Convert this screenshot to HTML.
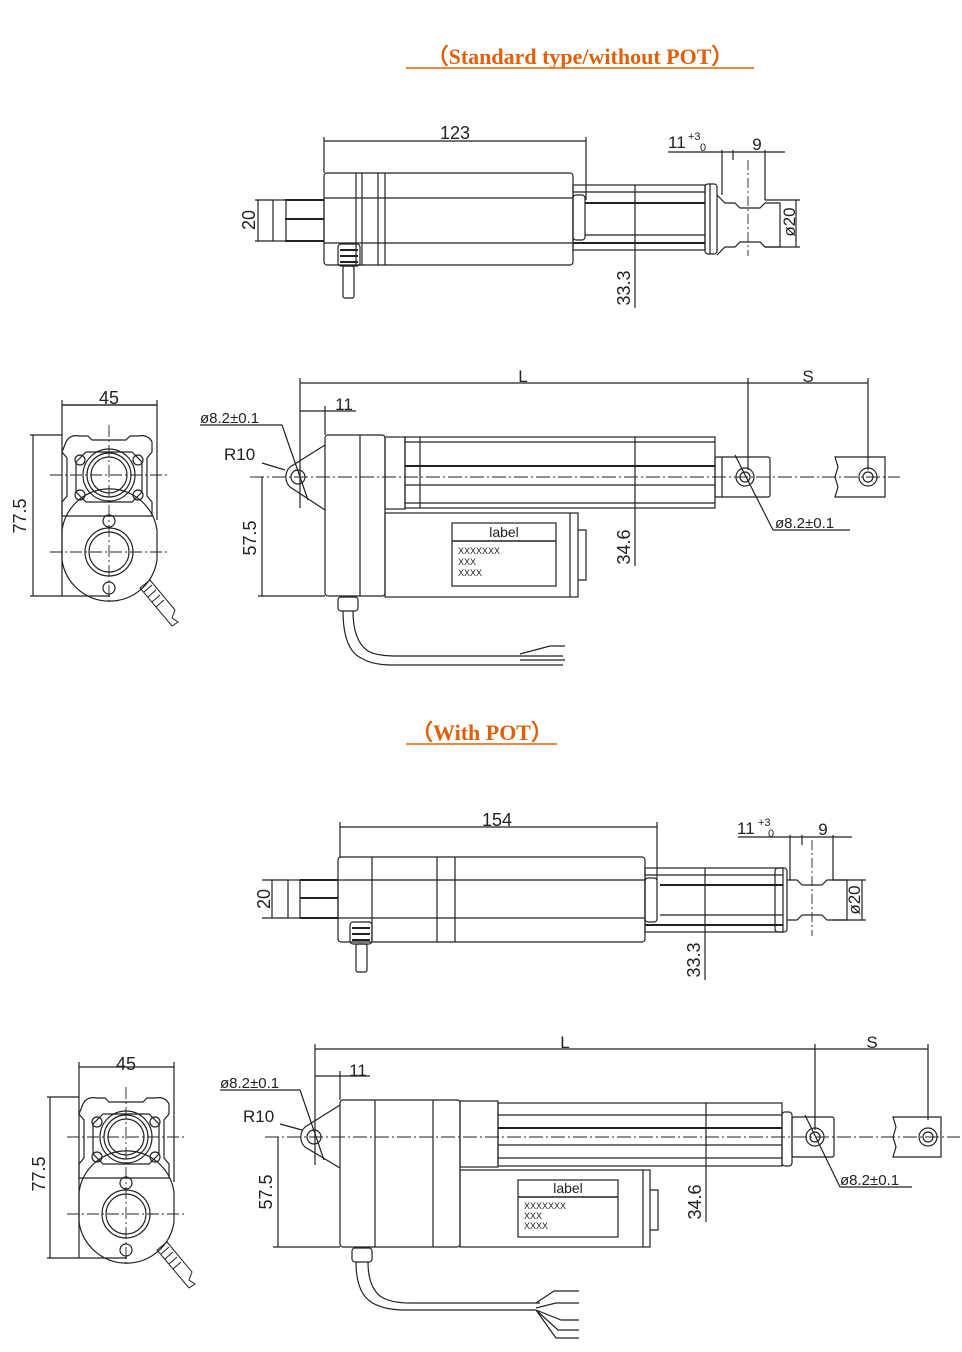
<!DOCTYPE html>
<html><head><meta charset="utf-8"><style>
html,body{margin:0;padding:0;background:#fff}
svg{display:block}
.t{font-family:"Liberation Sans",sans-serif;fill:#222}
.h{font-family:"Liberation Serif",serif;font-weight:bold;fill:#e0600a;font-size:22px}
</style></head><body>
<svg width="962" height="1352" viewBox="0 0 962 1352" xmlns="http://www.w3.org/2000/svg" fill="none" stroke="#222" stroke-width="1.2">
<defs>
<g id="endv">
 <line x1="30" y1="435" x2="62" y2="435"/><line x1="30" y1="596" x2="110" y2="596"/>
 <line x1="33" y1="435" x2="33" y2="596"/>
 <line x1="62" y1="400" x2="62" y2="596"/><line x1="157" y1="400" x2="157" y2="520"/>
 <line x1="62" y1="405" x2="157" y2="405"/>
 <path d="M66 442 q4-8 14-6 l8 0 l4 4 l34 0 l4-4 l8 0 q10-2 14 6 l0 10 l-5 6 l0 38 l5 6 l0 14 l-90 0 l0-14 l5-6 l0-38 l-5-6z"/>
 <path d="M76 462 l10-10 l46 0 l10 10 l0 30 l-10 10 l-46 0 l-10-10z"/>
 <circle cx="109" cy="475" r="22"/><circle cx="109" cy="475" r="18"/><circle cx="109" cy="475" r="26"/>
 <circle cx="80" cy="460" r="5"/><circle cx="138" cy="460" r="5"/><circle cx="80" cy="495" r="5"/><circle cx="138" cy="495" r="5"/>
 <path d="M62 530 a48 48 0 0 1 95 0 L157 560 A48 48 0 0 1 62 560 Z"/>
 <circle cx="109" cy="552" r="24"/><circle cx="109" cy="552" r="20"/>
 <circle cx="109" cy="521" r="6"/><circle cx="109" cy="588" r="6"/>
 <path d="M140 588 l10-8 l25 30 l-3 8 l6 4 l-6 4 z" stroke-width="1"/>
 <path d="M144 592 l8-7 M148 597 l8-7 M152 602 l8-7 M156 607 l8-7" stroke-width="1"/>
 <g stroke-dasharray="12,3,2,3" stroke-width="0.9">
 <line x1="109" y1="425" x2="109" y2="605"/><line x1="50" y1="475" x2="168" y2="475"/><line x1="50" y1="552" x2="168" y2="552"/>
 </g>
</g>
</defs>

<!-- Titles -->
<text x="580" y="64" text-anchor="middle" class="h" stroke="none">（Standard type/without POT）</text>
<line x1="406" y1="68" x2="754" y2="68" stroke="#e0600a" stroke-width="1.5"/>
<text x="482" y="740" text-anchor="middle" class="h" stroke="none">（With POT）</text>
<line x1="406" y1="744" x2="557" y2="744" stroke="#e0600a" stroke-width="1.5"/>

<!-- ===== TOP VIEW 1 ===== -->
<line x1="324" y1="141" x2="586" y2="141"/><line x1="324" y1="137" x2="324" y2="173"/><line x1="586" y1="137" x2="586" y2="200"/>
<text x="455" y="139" class="t" font-size="18" text-anchor="middle" stroke="none">123</text>
<rect x="324" y="173" width="249" height="92" rx="3"/>
<line x1="356" y1="173" x2="356" y2="265"/><line x1="362" y1="173" x2="362" y2="265"/><line x1="378" y1="173" x2="378" y2="265"/><line x1="385" y1="173" x2="385" y2="265"/>
<line x1="324" y1="198" x2="573" y2="198"/><line x1="324" y1="243" x2="573" y2="243"/>
<rect x="273" y="200" width="51" height="41"/>
<line x1="286" y1="200" x2="286" y2="241"/>
<line x1="285" y1="219" x2="324" y2="219" stroke-width="2"/><line x1="285" y1="200" x2="324" y2="200" stroke-width="2"/><line x1="285" y1="241" x2="324" y2="241" stroke-width="2"/>
<line x1="255" y1="200" x2="273" y2="200"/><line x1="255" y1="241" x2="273" y2="241"/><line x1="258" y1="200" x2="258" y2="241"/>
<text x="255" y="220" class="t" font-size="18" text-anchor="middle" stroke="none" transform="rotate(-90 255 220)">20</text>
<rect x="338" y="244" width="22" height="22" rx="3"/><path d="M340 250 h18 M340 256 h18 M340 262 h18" stroke-width="2"/>
<rect x="343" y="266" width="11" height="32" rx="2"/>
<rect x="573" y="185" width="132" height="65"/>
<line x1="573" y1="192" x2="705" y2="192"/><line x1="585" y1="203" x2="705" y2="203" stroke-width="2"/><line x1="585" y1="235" x2="705" y2="235"/><line x1="573" y1="243" x2="705" y2="243" stroke-width="2"/>
<rect x="573" y="195" width="12" height="45" rx="3"/>
<rect x="705" y="184" width="12" height="70" rx="3"/><line x1="710" y1="184" x2="710" y2="254"/>
<path d="M717 195 l8 8 l0 0 h10 l5 5 h20 l5-5 h15 v44 h-15 l-5-5 h-20 l-5 5 h-10 l-8 8"/>
<line x1="748" y1="160" x2="748" y2="256" stroke-dasharray="10,3,2,3" stroke-width="0.9"/>
<line x1="722" y1="150" x2="722" y2="195"/><line x1="733" y1="150" x2="733" y2="160"/><line x1="765" y1="150" x2="765" y2="200"/>
<line x1="668" y1="152" x2="785" y2="152"/>
<text x="668" y="148" class="t" font-size="17" stroke="none">11</text><text x="688" y="140" class="t" font-size="11" stroke="none">+3</text><text x="700" y="151" class="t" font-size="11" stroke="none">0</text>
<text x="757" y="150" class="t" font-size="17" text-anchor="middle" stroke="none">9</text>
<line x1="765" y1="200" x2="800" y2="200"/><line x1="765" y1="247" x2="800" y2="247"/><line x1="796" y1="200" x2="796" y2="247"/>
<text x="795" y="222" class="t" font-size="17" text-anchor="middle" stroke="none" transform="rotate(-90 795 222)">ø20</text>
<line x1="635" y1="185" x2="635" y2="308"/>
<text x="630" y="288" class="t" font-size="18" text-anchor="middle" stroke="none" transform="rotate(-90 630 288)">33.3</text>

<!-- ===== SIDE VIEW 1 ===== -->
<use href="#endv"/>
<line x1="62" y1="405" x2="157" y2="405"/>
<text x="109" y="404" class="t" font-size="18" text-anchor="middle" stroke="none">45</text>
<text x="26" y="516" class="t" font-size="18" text-anchor="middle" stroke="none" transform="rotate(-90 26 516)">77.5</text>

<line x1="300" y1="383" x2="868" y2="383"/>
<line x1="300" y1="378" x2="300" y2="508"/><line x1="748" y1="378" x2="748" y2="470"/><line x1="868" y1="378" x2="868" y2="470"/>
<text x="523" y="382" class="t" font-size="17" text-anchor="middle" stroke="none">L</text>
<text x="808" y="382" class="t" font-size="17" text-anchor="middle" stroke="none">S</text>
<line x1="300" y1="411" x2="356" y2="411"/><line x1="325" y1="406" x2="325" y2="435"/>
<text x="344" y="410" class="t" font-size="17" text-anchor="middle" stroke="none">11</text>
<text x="200" y="423" class="t" font-size="15" stroke="none">ø8.2±0.1</text>
<line x1="200" y1="425" x2="282" y2="425"/><line x1="282" y1="425" x2="308" y2="500"/>
<text x="224" y="460" class="t" font-size="17" stroke="none">R10</text><line x1="262" y1="463" x2="285" y2="470"/>
<path d="M325 445 L290 467 a14 14 0 0 0 0 20 L325 510"/>
<circle cx="298" cy="477" r="7"/>
<line x1="250" y1="477" x2="900" y2="477" stroke-dasharray="14,3,2,3" stroke-width="0.9"/>
<rect x="325" y="435" width="60" height="161" rx="3"/><line x1="360" y1="435" x2="360" y2="596"/>
<rect x="385" y="437" width="20" height="72"/>
<rect x="405" y="437" width="310" height="71"/>
<line x1="405" y1="442" x2="715" y2="442"/><line x1="405" y1="466" x2="715" y2="466" stroke-width="2"/><line x1="405" y1="485" x2="715" y2="485"/><line x1="405" y1="503" x2="715" y2="503"/>
<line x1="420" y1="437" x2="420" y2="508"/>
<rect x="385" y="513" width="193" height="84"/><line x1="570" y1="513" x2="570" y2="597"/>
<path d="M578 530 h8 v50 h-8"/>
<rect x="452" y="523" width="104" height="63"/><line x1="452" y1="541" x2="556" y2="541" stroke-width="1.6"/>
<text x="504" y="537" class="t" font-size="14" text-anchor="middle" stroke="none">label</text>
<text x="458" y="554" class="t" font-size="9" stroke="none">XXXXXXX</text><text x="458" y="565" class="t" font-size="9" stroke="none">XXX</text><text x="458" y="576" class="t" font-size="9" stroke="none">XXXX</text>
<rect x="715" y="457" width="55" height="40" rx="2"/><line x1="722" y1="457" x2="722" y2="497"/>
<circle cx="745" cy="477" r="9"/><circle cx="745" cy="477" r="5"/>
<line x1="735" y1="455" x2="773" y2="530"/><line x1="773" y1="530" x2="850" y2="530"/>
<text x="775" y="528" class="t" font-size="15" stroke="none">ø8.2±0.1</text>
<path d="M835 457 h50 v40 h-50 l3-10 l-3-10 l3-10 z"/><circle cx="868" cy="477" r="9"/><circle cx="868" cy="477" r="5"/>
<line x1="635" y1="437" x2="635" y2="566"/>
<text x="630" y="547" class="t" font-size="18" text-anchor="middle" stroke="none" transform="rotate(-90 630 547)">34.6</text>
<line x1="258" y1="596" x2="325" y2="596"/><line x1="262" y1="477" x2="262" y2="596"/>
<text x="256" y="538" class="t" font-size="18" text-anchor="middle" stroke="none" transform="rotate(-90 256 538)">57.5</text>
<rect x="338" y="597" width="20" height="14" rx="3"/>
<path d="M343 611 q0 40 20 48 q10 6 30 6 h170 M353 611 q0 30 15 40 q8 5 30 5 h165"/>
<path d="M520 654 l30-8 h15 M520 660 l30 0 h15"/>

<!-- ===== TOP VIEW 2 ===== -->
<line x1="340" y1="827" x2="657" y2="827"/><line x1="340" y1="822" x2="340" y2="857"/><line x1="657" y1="822" x2="657" y2="880"/>
<text x="497" y="826" class="t" font-size="18" text-anchor="middle" stroke="none">154</text>
<rect x="338" y="857" width="307" height="85" rx="3"/>
<line x1="372" y1="857" x2="372" y2="942"/><line x1="437" y1="857" x2="437" y2="942"/><line x1="455" y1="857" x2="455" y2="942"/>
<line x1="338" y1="880" x2="645" y2="880"/><line x1="338" y1="918" x2="645" y2="918"/>
<rect x="288" y="880" width="50" height="38"/>
<line x1="300" y1="880" x2="300" y2="918"/>
<line x1="300" y1="898" x2="338" y2="898" stroke-width="2"/><line x1="300" y1="880" x2="338" y2="880" stroke-width="2"/><line x1="300" y1="918" x2="338" y2="918" stroke-width="2"/>
<line x1="262" y1="880" x2="288" y2="880"/><line x1="262" y1="918" x2="288" y2="918"/><line x1="272" y1="880" x2="272" y2="918"/>
<text x="270" y="899" class="t" font-size="18" text-anchor="middle" stroke="none" transform="rotate(-90 270 899)">20</text>
<rect x="350" y="922" width="22" height="22" rx="3"/><path d="M352 928 h18 M352 934 h18 M352 940 h18" stroke-width="2"/>
<rect x="356" y="944" width="11" height="28" rx="2"/>
<rect x="645" y="868" width="138" height="64"/>
<line x1="645" y1="875" x2="783" y2="875"/><line x1="660" y1="885" x2="783" y2="885" stroke-width="2"/><line x1="660" y1="915" x2="783" y2="915"/><line x1="645" y1="925" x2="783" y2="925" stroke-width="2"/>
<rect x="645" y="878" width="12" height="44" rx="3"/>
<rect x="775" y="868" width="12" height="64" rx="3"/>
<path d="M787 880 h10 l5 5 h20 l5-5 h20 v40 h-20 l-5-5 h-20 l-5 5 h-10"/>
<line x1="812" y1="840" x2="812" y2="936" stroke-dasharray="10,3,2,3" stroke-width="0.9"/>
<line x1="790" y1="835" x2="790" y2="880"/><line x1="802" y1="835" x2="802" y2="845"/><line x1="833" y1="835" x2="833" y2="880"/>
<line x1="738" y1="837" x2="852" y2="837"/>
<text x="737" y="834" class="t" font-size="17" stroke="none">11</text><text x="758" y="826" class="t" font-size="11" stroke="none">+3</text><text x="768" y="837" class="t" font-size="11" stroke="none">0</text>
<text x="823" y="835" class="t" font-size="17" text-anchor="middle" stroke="none">9</text>
<line x1="833" y1="880" x2="866" y2="880"/><line x1="833" y1="920" x2="866" y2="920"/><line x1="862" y1="880" x2="862" y2="920"/>
<text x="860" y="900" class="t" font-size="17" text-anchor="middle" stroke="none" transform="rotate(-90 860 900)">ø20</text>
<line x1="705" y1="868" x2="705" y2="980"/>
<text x="700" y="960" class="t" font-size="18" text-anchor="middle" stroke="none" transform="rotate(-90 700 960)">33.3</text>

<!-- ===== SIDE VIEW 2 ===== -->
<g transform="translate(17 662)"><use href="#endv"/></g>
<text x="126" y="1070" class="t" font-size="18" text-anchor="middle" stroke="none">45</text>
<text x="45" y="1174" class="t" font-size="18" text-anchor="middle" stroke="none" transform="rotate(-90 45 1174)">77.5</text>

<line x1="315" y1="1049" x2="928" y2="1049"/>
<line x1="315" y1="1044" x2="315" y2="1165"/><line x1="815" y1="1044" x2="815" y2="1130"/><line x1="928" y1="1044" x2="928" y2="1120"/>
<text x="565" y="1048" class="t" font-size="17" text-anchor="middle" stroke="none">L</text>
<text x="872" y="1048" class="t" font-size="17" text-anchor="middle" stroke="none">S</text>
<line x1="315" y1="1076" x2="370" y2="1076"/><line x1="340" y1="1071" x2="340" y2="1100"/>
<text x="358" y="1076" class="t" font-size="17" text-anchor="middle" stroke="none">11</text>
<text x="220" y="1088" class="t" font-size="15" stroke="none">ø8.2±0.1</text>
<line x1="220" y1="1090" x2="300" y2="1090"/><line x1="300" y1="1090" x2="324" y2="1160"/>
<text x="243" y="1122" class="t" font-size="17" stroke="none">R10</text><line x1="280" y1="1124" x2="302" y2="1130"/>
<path d="M340 1105 L305 1127 a14 14 0 0 0 0 20 L340 1168"/>
<circle cx="314" cy="1137" r="7"/>
<line x1="265" y1="1137" x2="960" y2="1137" stroke-dasharray="14,3,2,3" stroke-width="0.9"/>
<rect x="340" y="1100" width="120" height="147" rx="3"/><line x1="375" y1="1100" x2="375" y2="1247"/><line x1="433" y1="1100" x2="433" y2="1247"/>
<rect x="460" y="1101" width="38" height="66"/>
<rect x="498" y="1103" width="284" height="63"/>
<line x1="498" y1="1115" x2="782" y2="1115"/><line x1="498" y1="1128" x2="782" y2="1128" stroke-width="2"/><line x1="498" y1="1145" x2="782" y2="1145"/><line x1="498" y1="1158" x2="782" y2="1158"/>
<rect x="460" y="1170" width="190" height="77"/><line x1="643" y1="1170" x2="643" y2="1247"/>
<path d="M650 1190 h8 v40 h-8"/>
<rect x="518" y="1180" width="100" height="57"/><line x1="518" y1="1197" x2="618" y2="1197" stroke-width="1.6"/>
<text x="568" y="1193" class="t" font-size="14" text-anchor="middle" stroke="none">label</text>
<text x="524" y="1209" class="t" font-size="9" stroke="none">XXXXXXX</text><text x="524" y="1219" class="t" font-size="9" stroke="none">XXX</text><text x="524" y="1229" class="t" font-size="9" stroke="none">XXXX</text>
<rect x="782" y="1112" width="10" height="54" rx="3"/>
<rect x="792" y="1117" width="42" height="40" rx="2"/>
<circle cx="815" cy="1137" r="9"/><circle cx="815" cy="1137" r="5"/>
<line x1="805" y1="1115" x2="840" y2="1187"/><line x1="840" y1="1187" x2="912" y2="1187"/>
<text x="840" y="1185" class="t" font-size="15" stroke="none">ø8.2±0.1</text>
<path d="M893 1117 h48 v40 h-48 l3-10 l-3-10 l3-10 z"/><circle cx="928" cy="1137" r="9"/><circle cx="928" cy="1137" r="5"/>
<line x1="706" y1="1103" x2="706" y2="1222"/>
<text x="701" y="1202" class="t" font-size="18" text-anchor="middle" stroke="none" transform="rotate(-90 701 1202)">34.6</text>
<line x1="273" y1="1247" x2="340" y2="1247"/><line x1="278" y1="1137" x2="278" y2="1247"/>
<text x="272" y="1192" class="t" font-size="18" text-anchor="middle" stroke="none" transform="rotate(-90 272 1192)">57.5</text>
<rect x="352" y="1248" width="20" height="14" rx="3"/>
<path d="M356 1262 q0 30 15 40 q12 8 35 8 h130 M368 1262 q0 24 12 34 q10 7 30 7 h130"/>
<path d="M536 1303 l18-12 h25 M536 1308 l20-5 h23 M536 1310 l25 10 h18 M536 1310 l22 20 h21 M536 1310 l20 28 h23"/>
</svg>
</body></html>
